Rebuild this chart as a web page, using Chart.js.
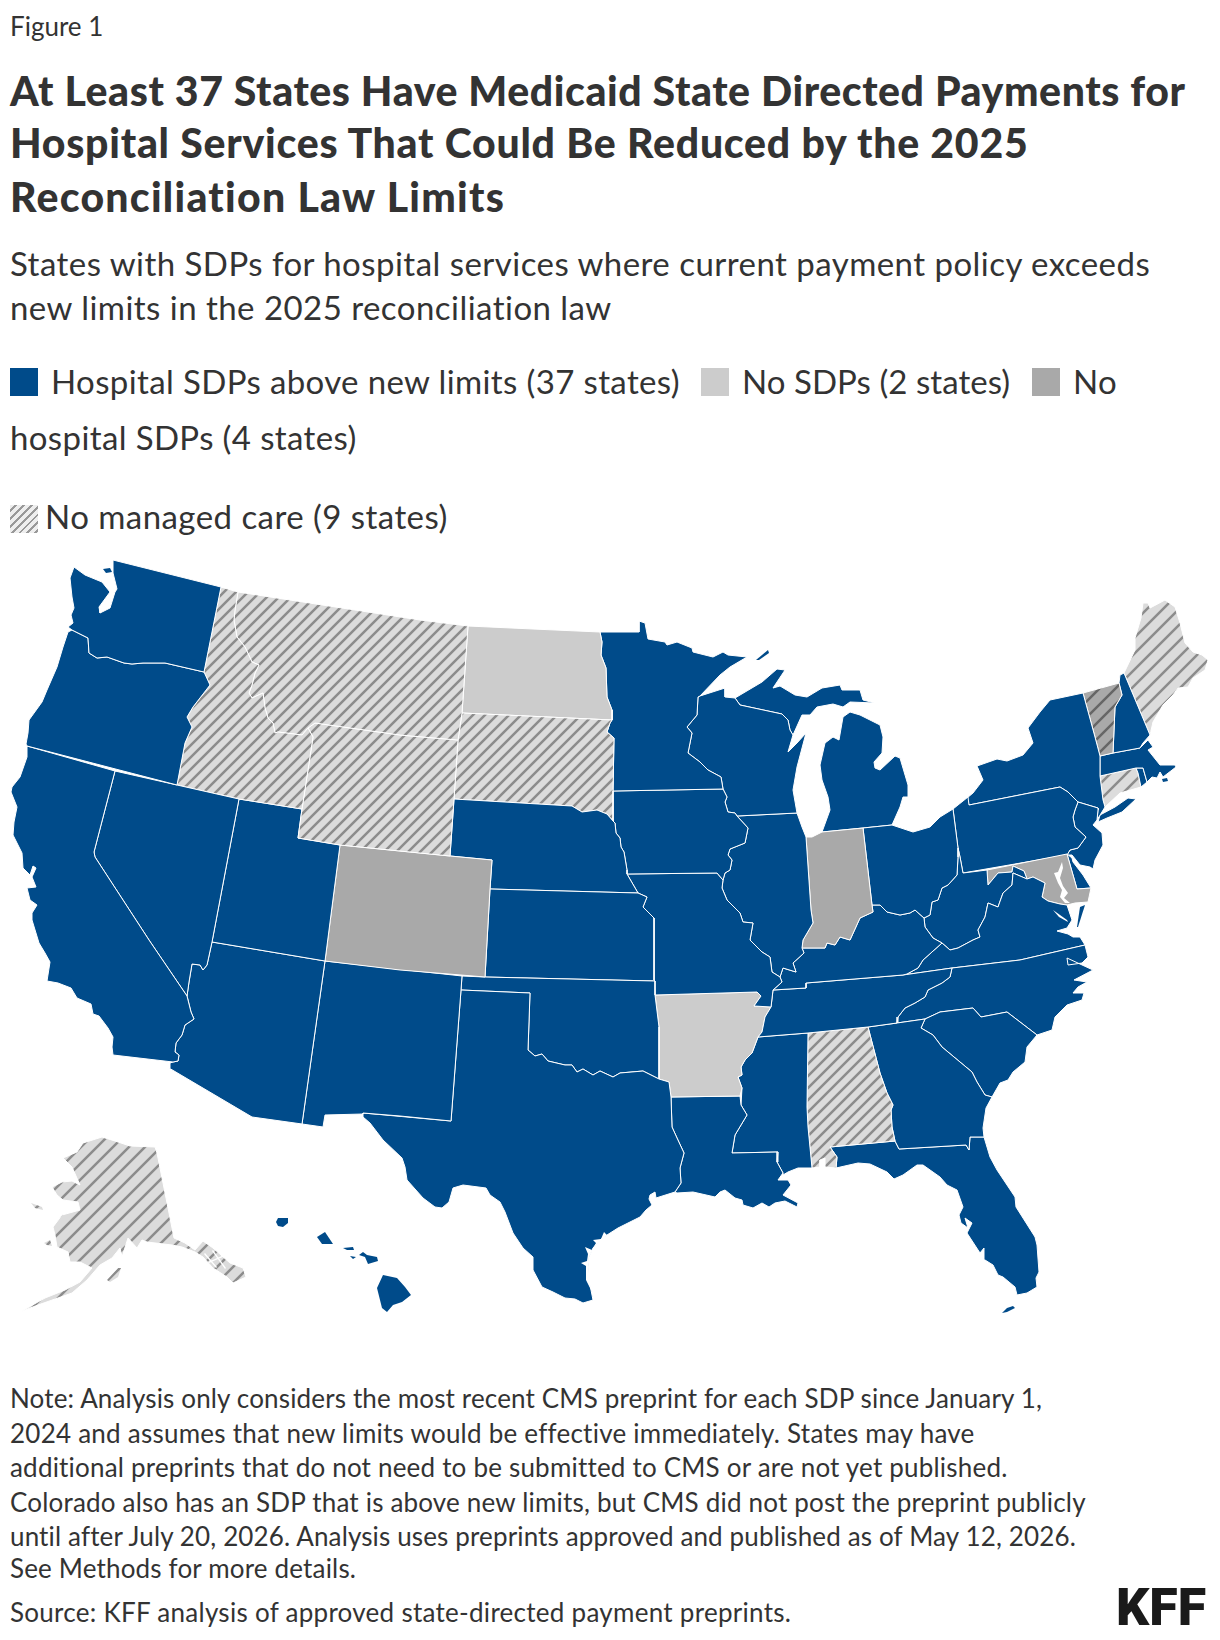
<!DOCTYPE html>
<html>
<head>
<meta charset="utf-8">
<title>Figure 1</title>
<style>
  html, body { margin: 0; padding: 0; background: #fff; }
  body { width: 1220px; height: 1640px; position: relative; overflow: hidden; font-family: Lato, sans-serif; color: #333; }
  .t { position: absolute; left: 10px; white-space: nowrap; line-height: 1; }
  .fig { font-size: 26px; }
  .title { font-size: 41px; font-weight: 900; }
  .sub { font-size: 33px; letter-spacing: 0.46px; }
  .leg { font-size: 33px; letter-spacing: 0.37px; }
  .note { font-size: 26px; }
  .sw { position: absolute; width: 28px; height: 28px; }
  #logo { position: absolute; left: 1116px; top: 1582px; font: 900 52px/1 Roboto, sans-serif; color: #1a1a1a; white-space: nowrap; }
  #mapBox { position: absolute; left: 0; top: 540px; width: 1220px; height: 820px; }
</style>
</head>
<body>
<div class="t fig" style="top:13px">Figure 1</div>
<div class="t title" style="top:70px;letter-spacing:0.58px">At Least 37 States Have Medicaid State Directed Payments for</div>
<div class="t title" style="top:122px;letter-spacing:0.74px">Hospital Services That Could Be Reduced by the 2025</div>
<div class="t title" style="top:176px;letter-spacing:1.25px">Reconciliation Law Limits</div>
<div class="t sub" style="top:247px">States with SDPs for hospital services where current payment policy exceeds</div>
<div class="t sub" style="top:291px">new limits in the 2025 reconciliation law</div>

<div class="sw" style="left:10px;top:368px;background:#004b8a"></div>
<div class="t leg" style="left:51px;top:365px">Hospital SDPs above new limits (37 states)</div>
<div class="sw" style="left:701px;top:368px;background:#cccccc"></div>
<div class="t leg" style="left:742px;top:365px;letter-spacing:0.05px">No SDPs (2 states)</div>
<div class="sw" style="left:1032px;top:368px;background:#a9a9a9"></div>
<div class="t leg" style="left:1073px;top:365px">No</div>
<div class="t leg" style="top:421px">hospital SDPs (4 states)</div>
<div class="sw" style="left:10px;top:505px;background:repeating-linear-gradient(135deg,#eeeeee 0 3.5px,#999999 3.5px 5.5px)"></div>
<div class="t leg" style="left:45px;top:500px;letter-spacing:0.45px">No managed care (9 states)</div>

<div id="mapBox"><canvas id="usMap" width="1220" height="820"></canvas></div>

<div class="t note" style="top:1385px;letter-spacing:0.155px">Note: Analysis only considers the most recent CMS preprint for each SDP since January 1,</div>
<div class="t note" style="top:1420px;letter-spacing:0.24px">2024 and assumes that new limits would be effective immediately. States may have</div>
<div class="t note" style="top:1454px;letter-spacing:0.2px">additional preprints that do not need to be submitted to CMS or are not yet published.</div>
<div class="t note" style="top:1489px;letter-spacing:0.19px">Colorado also has an SDP that is above new limits, but CMS did not post the preprint publicly</div>
<div class="t note" style="top:1523px;letter-spacing:0.14px">until after July 20, 2026. Analysis uses preprints approved and published as of May 12, 2026.</div>
<div class="t note" style="top:1555px;letter-spacing:0.17px">See Methods for more details.</div>
<div class="t note" style="top:1599px;letter-spacing:0.28px">Source: KFF analysis of approved state-directed payment preprints.</div>
<div id="logo">KFF</div>

<script src="https://cdn.jsdelivr.net/npm/chart.js@4"></script>
<script>
// state groups
const aboveLimits = ['WA','OR','CA','NV','UT','AZ','NM','TX','OK','KS','NE','MN','IA','MO','WI','IL','MI','OH','KY','TN','MS','LA','GA','FL','SC','NC','VA','WV','PA','NY','NJ','DE','NH','MA','RI','HI'];
const noSdps = ['ND','AR'];
const noHospitalSdps = ['CO','IN','MD'];
const noManagedCare = ['ID','MT','WY','SD','AL','ME','CT','AK'];
const noHospitalAndNoManagedCare = ['VT'];

// shared borders, in map units
const rev = a => a.slice().reverse();
const waOr = [[204,672],[165,663],[143,663],[132,664],[124,663],[107,657],[97,658],[89,653],[88,638],[78,633],[72,630]];
const orId = [[177,785],[185,743],[192,727],[187,717],[193,707],[210,685],[204,672]];
const caNv = [[115,771],[94,852],[95,857],[149,940],[187,996]];
const caAz = [[187,996],[191,1012],[194,1019],[185,1025],[182,1035],[176,1043],[175,1052],[179,1055],[178,1061],[173,1062]];
const nvAz = [[212,942],[207,965],[203,970],[200,965],[192,964],[189,982],[187,996]];
const idMt = [[238,592],[235,610],[234,620],[237,637],[245,647],[252,662],[259,665],[255,673],[252,685],[249,693],[252,698],[263,693],[265,708],[268,718],[273,723],[275,733],[278,732],[302,735],[308,728]];
const okTx = [[528,1050],[535,1056],[542,1054],[548,1061],[565,1065],[572,1065],[577,1072],[583,1069],[593,1075],[600,1071],[613,1077],[620,1073],[643,1071],[659,1079]];
const txLa = [[671,1097],[672,1127],[677,1138],[684,1153],[680,1168],[681,1183],[675,1192]];
const ndMn = [[600,632],[602,642],[601,655],[606,668],[607,697],[612,710],[612,720]];
const sdMn = [[612,720],[610,723],[607,732],[614,738],[613,791]];
const neSd = [[454,799],[572,806],[582,812],[597,810],[607,814],[613,821]];
const neIa = [[613,821],[615,823],[616,833],[620,838],[621,847],[624,852],[627,870],[627,874]];
const mnWi = [[698,697],[697,715],[687,727],[692,733],[688,753],[700,762],[708,770],[721,777],[723,789]];
const ilUpper = [[723,880],[725,873],[730,870],[732,860],[728,855],[730,849],[745,843],[748,828],[737,816]];
const moIl = [[723,880],[722,888],[727,900],[740,913],[743,922],[753,923],[750,940],[762,952],[770,957],[772,972],[780,977]];
const kyIl = [[780,977],[783,968],[796,972],[793,963],[804,953],[802,948]];
const ilIn = [[806,837],[811,910],[813,923],[803,940],[802,948]];
const kyIn = [[802,948],[825,948],[827,943],[835,945],[840,937],[850,940],[860,918],[873,912],[872,905]];
const kyOh = [[872,905],[880,905],[887,912],[900,915],[910,913],[915,910],[924,918]];
const ohWv = [[958,848],[958,857],[957,875],[948,885],[942,888],[938,900],[932,902],[930,915],[924,918]];
const kyWv = [[924,918],[925,927],[933,938],[942,943]];
const kyVa = [[903,975],[907,974],[918,968],[923,960],[942,943]];
const tnNorth = [[773,990],[806,988],[806,983],[903,975]];
const tnNc = [[952,968],[950,977],[942,983],[928,990],[925,997],[915,1003],[905,1008],[898,1017],[897,1023]];
const vaNc = [[952,968],[1020,960],[1085,945]];
const wvVa = [[1027,879],[1013,873],[1012,885],[1003,893],[998,907],[988,903],[985,917],[978,930],[980,937],[973,940],[958,948],[950,950],[942,943]];
const wvMd = [[987,870],[988,885],[998,873],[1012,872],[1013,866],[1024,871],[1027,879]];
const potomac = [[1027,879],[1033,877],[1045,883],[1042,897],[1048,901],[1060,904],[1067,905]];
const arUpper = [[771,1007],[765,1017],[762,1032],[758,1037]];
const arLower = [[758,1037],[752,1053],[745,1060],[741,1067],[742,1075],[738,1077],[742,1088],[740,1096]];
const moAr = [[655,995],[757,992],[761,996],[754,1006],[771,1007]];
const laMs = [[740,1096],[741,1105],[747,1115],[735,1135],[732,1153],[778,1152],[777,1162],[783,1173]];
const alEast = [[868,1027],[880,1073],[887,1093],[893,1105],[891,1110],[892,1127],[895,1141]];
const gaSc = [[925,1019],[921,1028],[933,1035],[942,1047],[960,1062],[972,1072],[977,1082],[985,1095],[992,1097]];
const scTop = [[925,1019],[940,1012],[973,1008],[981,1017],[1007,1012],[1037,1035]];
const paNy = [[969,805],[1060,787],[1068,792],[1078,802]];
const paNj = [[1078,802],[1075,810],[1073,817],[1075,827],[1086,837],[1078,848],[1070,850],[1067,855]];
const nyNj = [[1078,802],[1098,808],[1098,810],[1097,820]];
const nyNe = [[1105,807],[1103,800],[1100,776],[1100,756],[1095,737],[1083,693]];

// one ring per state part
const WA = [[113,560],[221,587],...waOr,[68,627],[73,623],[71,615],[74,608],[72,597],[70,578],[74,567],[85,575],[102,582],[110,592],[99,607],[100,613],[110,608],[115,592],[117,589],[113,573]];
const WA_island = [[103,569],[110,568],[112,572],[106,573]];
const OR = [...waOr,[68,632],[63,647],[57,667],[47,690],[42,702],[29,720],[28,733],[26,744],[27,746],...orId];
const CA = [[27,746],...caNv,...caAz,[113,1055],[112,1047],[113,1037],[108,1028],[99,1016],[93,1014],[91,1004],[77,998],[71,988],[58,983],[47,981],[50,962],[45,953],[39,943],[32,920],[32,913],[37,905],[30,900],[27,888],[36,887],[32,877],[36,868],[33,866],[30,875],[23,868],[22,853],[13,835],[14,822],[17,807],[11,792],[12,787],[20,777],[27,757]];
const NV = [[115,771],[177,785],[239,799],[212,942],...nvAz.slice(1),...rev(caNv).slice(1)];
const ID = [[221,587],...idMt,[313,737],[302,809],[239,799],[177,785],...orId.slice(1)];
const MT = [...idMt,[315,723],[400,735],[458,740],[462,713],[468,626],[420,620]];
const WY = [[315,723],[400,735],[458,740],[454,799],[450,856],[340,845],[298,838],[302,809],[313,737],[308,728]];
const UT = [[239,799],[302,809],[298,838],[340,845],[325,961],[212,942]];
const CO = [[340,845],[450,856],[492,860],[490,889],[485,977],[400,970],[325,961]];
const AZ = [[212,942],[325,961],[302,1124],[252,1117],[169,1068],[170,1063],...rev(caAz),...rev(nvAz).slice(1)];
const NM = [[325,961],[462,976],[461,990],[451,1121],[400,1116],[363,1113],[363,1114],[325,1115],[323,1127],[302,1124]];
const TX = [[461,990],[530,993],...okTx,[669,1082],...txLa,[656,1198],[655,1192],[650,1195],[649,1199],[652,1205],[646,1210],[640,1217],[618,1228],[607,1235],[600,1240],[593,1248],[589,1257],[588,1267],[589,1280],[593,1300],[583,1303],[575,1299],[565,1298],[553,1292],[542,1287],[533,1270],[533,1257],[523,1248],[513,1233],[505,1212],[500,1202],[490,1195],[486,1188],[463,1185],[453,1188],[449,1202],[442,1208],[435,1207],[423,1198],[407,1180],[405,1167],[402,1158],[383,1140],[370,1123],[363,1117],[363,1113],[451,1121]];
const OK = [[462,976],[485,977],[655,981],[655,995],[659,1027],[659,1079],...rev(okTx),[530,993],[461,990]];
const KS = [[490,889],[638,893],[647,897],[643,907],[654,918],[654,980],[655,981],[485,977]];
const NE = [...neSd,...neIa,[638,893],[490,889],[492,860],[450,856]];
const SD = [[462,713],[612,720],...sdMn.slice(1),[613,812],...rev(neSd),[458,740]];
const ND = [[468,626],[533,629],...ndMn,[462,713]];
const MN = [...ndMn,...sdMn.slice(1),...rev(mnWi),[700,696],[720,675],[730,667],[747,657],[728,655],[723,652],[713,657],[693,652],[692,648],[677,642],[667,645],[665,642],[648,639],[645,623],[639,621],[639,632]];
const IA = [[613,791],[723,789],[727,797],[725,802],[728,812],[735,813],...rev(ilUpper),[717,873],[627,874],...rev(neIa),[613,791]];
const MO = [[627,874],[717,873],...moIl,[782,982],[773,990],...rev(moAr),[654,980],[654,918],[643,907],[647,897],[638,893]];
const WI = [[698,697],[700,696],[725,688],[725,697],[735,698],[740,705],[782,714],[788,720],[790,730],[793,735],[788,752],[797,743],[806,733],[797,767],[793,790],[797,813],[737,816],[735,813],[728,812],[725,802],[727,797],...rev(mnWi).slice(0,8)];
const IL = [[737,816],[797,813],[802,827],...ilIn,...rev(kyIl),...rev(moIl),...ilUpper.slice(1)];
const IN = [[806,837],[812,837],[822,832],[863,828],...rev(kyIn),...rev(ilIn).slice(1)];
const OH = [[863,828],[892,825],[913,832],[930,827],[940,817],[953,809],...ohWv,...rev(kyOh)];
const KY = [...kyIl,...kyIn.slice(1),...kyOh.slice(1),...kyWv.slice(1),...rev(kyVa).slice(1),...rev(tnNorth).slice(1),[782,982]];
const TN = [...tnNorth,[952,968],...tnNc.slice(1),[868,1027],[808,1033],...rev(arUpper)];
const AR = [...moAr,...arUpper.slice(1),...arLower.slice(1),[671,1097],[669,1082],[659,1079],[659,1027]];
const LA = [[671,1097],...laMs,[778,1180],[788,1180],[791,1185],[783,1195],[798,1203],[797,1207],[785,1201],[775,1203],[769,1207],[762,1203],[753,1208],[743,1205],[742,1200],[735,1198],[725,1190],[720,1192],[715,1197],[693,1192],[677,1193],...rev(txLa).slice(0,6)];
const MS = [[758,1037],[808,1033],[807,1107],[808,1127],[812,1168],[798,1168],[788,1172],[783,1175],...rev(laMs).slice(0,-1),...rev(arLower).slice(1)];
const AL = [[808,1033],...alEast,[830,1147],[837,1157],[836,1168],[825,1167],[825,1158],[820,1160],[820,1167],[812,1168],[808,1127],[807,1107]];
const GA = [[868,1027],[897,1023],...gaSc,[986,1108],[983,1128],[984,1137],[970,1137],[969,1150],[966,1145],[899,1149],...rev(alEast)];
const FL = [[830,1147],[895,1141],[899,1149],[966,1145],[969,1150],[970,1137],[984,1137],[990,1157],[997,1170],[1015,1197],[1016,1207],[1035,1237],[1037,1245],[1039,1272],[1036,1278],[1037,1287],[1027,1293],[1017,1295],[1015,1287],[1003,1277],[998,1275],[993,1265],[985,1260],[984,1248],[980,1253],[967,1233],[972,1223],[965,1218],[968,1228],[961,1223],[959,1215],[963,1207],[957,1190],[947,1185],[940,1177],[923,1165],[917,1165],[903,1175],[894,1179],[887,1172],[870,1164],[858,1163],[836,1168],[837,1157]];
const FL_keys = [[1002,1313],[1007,1308],[1013,1306],[1015,1308],[1007,1312]];
const SC = [...scTop,[1027,1047],[1025,1062],[1013,1072],[1008,1080],[1000,1083],...rev(gaSc)];
const NC = [...vaNc,[1088,957],[1082,963],[1068,965],[1067,958],[1093,970],[1074,980],[1087,982],[1078,987],[1073,993],[1084,993],[1082,1000],[1067,1005],[1055,1017],[1052,1030],...rev(scTop),[897,1023],...rev(tnNc).slice(1)];
const VA = [...potomac,[1072,920],[1067,928],[1057,931],[1068,934],[1073,937],[1080,937],...rev(vaNc),...kyVa,...rev(wvVa).slice(1)];
const VA_shore = [[1085,905],[1078,927],[1077,927],[1080,907]];
const WV = [[963,873],...wvMd,...wvVa.slice(1),...rev(kyWv).slice(1),...rev(ohWv).slice(1),[960,857]];
const MD = [[987,870],[1067,854],[1077,889],[1091,888],[1088,902],[1075,903],...rev(potomac),...rev(wvMd).slice(1)];
const DE = [[1067,854],[1072,858],[1073,862],[1083,875],[1091,888],[1077,889]];
const PA = [[968,797],...paNy,...paNj,[963,873],[960,857],[958,848],[953,809]];
const NJ = [...paNj,[1072,855],[1080,865],[1090,867],[1093,869],[1095,860],[1103,845],[1102,833],[1093,825],...rev(nyNj).slice(0,3)];
const NY = [[967,798],...paNy,...nyNj,[1105,807],...nyNe.slice(1),[1050,700],[1040,712],[1028,728],[1033,743],[1023,755],[1007,761],[997,759],[977,766],[983,780],[973,793]];
const NY_longIsland = [[1098,822],[1100,815],[1115,807],[1128,798],[1136,799],[1122,812],[1107,818]];
const VT = [[1083,693],[1119,683],[1122,695],[1115,707],[1113,753],[1100,756],[1095,737]];
const NH = [[1119,683],[1120,675],[1124,673],[1150,735],[1143,743],[1140,748],[1113,753],[1115,707],[1122,695]];
const ME = [[1124,673],[1135,650],[1135,638],[1141,618],[1143,603],[1148,603],[1150,608],[1165,600],[1175,607],[1180,623],[1185,643],[1193,652],[1202,655],[1208,660],[1205,670],[1193,678],[1188,687],[1178,688],[1173,695],[1163,705],[1153,722],[1150,735]];
const MA = [[1100,756],[1113,753],[1140,748],[1148,740],[1153,747],[1148,750],[1160,765],[1175,765],[1176,767],[1163,777],[1160,772],[1157,778],[1152,777],[1147,782],[1143,768],[1136,768],[1100,776]];
const MA_islands = [[1162,779],[1167,778],[1168,781],[1163,782]];
const RI = [[1136,768],[1143,768],[1147,782],[1141,787],[1138,773]];
const CT = [[1100,776],[1136,768],[1138,773],[1141,787],[1120,793],[1105,807],[1103,800]];
const MI_lower = [[822,832],[863,828],[892,825],[900,807],[903,797],[908,797],[908,785],[900,758],[895,756],[880,770],[875,768],[874,762],[882,753],[883,737],[880,725],[860,715],[850,712],[843,717],[839,740],[833,737],[825,743],[820,765],[822,780],[828,797],[830,810]];
const MI_upper = [[735,698],[740,705],[782,714],[788,720],[790,730],[793,735],[802,715],[810,715],[817,707],[833,704],[843,707],[850,702],[875,703],[863,700],[860,690],[842,690],[840,685],[822,688],[807,697],[795,695],[780,686],[773,688],[785,670],[777,669],[762,682]];
const MI_isle = [[756,660],[768,650],[769,653],[759,660]];
const AK = [[102,1137],[115,1141],[130,1146],[155,1147],[157,1153],[174,1238],[185,1243],[195,1250],[203,1241],[213,1248],[230,1263],[243,1268],[246,1277],[233,1283],[227,1277],[213,1268],[203,1257],[195,1252],[182,1247],[172,1245],[147,1242],[142,1240],[137,1248],[128,1238],[122,1257],[120,1248],[112,1258],[100,1265],[87,1280],[72,1293],[58,1298],[38,1305],[20,1312],[45,1298],[65,1290],[80,1282],[92,1268],[80,1262],[70,1262],[68,1252],[57,1247],[55,1235],[53,1227],[62,1215],[80,1210],[78,1202],[63,1200],[57,1195],[52,1187],[62,1182],[72,1181],[80,1185],[72,1167],[63,1158],[77,1152],[83,1143]];
const AK_kodiak = [[107,1280],[118,1268],[121,1268],[118,1277],[110,1282]];
const AK_stLawrence = [[31,1203],[42,1207],[43,1210],[35,1208]];
const AK_nunivak = [[44,1243],[50,1240],[52,1246],[47,1245]];
const HI_kauai = [[276,1222],[278,1218],[288,1218],[288,1223],[283,1227],[278,1226]];
const HI_oahu = [[317,1237],[325,1232],[333,1244],[322,1244]];
const HI_molokai = [[343,1248],[353,1247],[354,1250],[347,1250]];
const HI_lanai = [[350,1256],[356,1257],[353,1259]];
const HI_maui = [[359,1255],[363,1252],[367,1255],[377,1257],[378,1261],[368,1264],[365,1257]];
const HI_big = [[383,1275],[397,1278],[405,1287],[411,1295],[402,1302],[393,1305],[387,1312],[382,1308],[377,1288]];

// bays and sounds, painted over the land
const chesapeake = [[1062,862],[1063,868],[1060,878],[1063,886],[1068,893],[1064,898],[1070,903],[1065,903],[1060,897],[1062,890],[1058,883],[1054,873],[1058,872]];
const texasBays = [[604,1232],[607,1235],[600,1241],[593,1248],[589,1257],[588,1267],[590,1280],[591,1290],[586,1280],[586,1266],[581,1263],[587,1261],[588,1254],[585,1247],[592,1250],[596,1243],[593,1240],[601,1239]];
const vaRiver = [[1053,910],[1067,920],[1068,922],[1059,917]];
const laBay = [[723,1194],[727,1193],[730,1196],[725,1197]];
const akChannelA = [[205,1253],[217,1267],[216,1268],[204,1254]];
const akChannelB = [[213,1250],[226,1268],[225,1269],[212,1251]];
const akChannelC = [[208,1262],[224,1255],[225,1256],[209,1263]];

const stateParts = {
  WA: [WA, WA_island], OR: [OR], CA: [CA], NV: [NV], ID: [ID], MT: [MT], WY: [WY], UT: [UT], CO: [CO], AZ: [AZ], NM: [NM],
  TX: [TX], OK: [OK], KS: [KS], NE: [NE], SD: [SD], ND: [ND], MN: [MN], IA: [IA], MO: [MO], WI: [WI], IL: [IL], IN: [IN],
  OH: [OH], KY: [KY], TN: [TN], AR: [AR], LA: [LA], MS: [MS], AL: [AL], GA: [GA], FL: [FL, FL_keys], SC: [SC], NC: [NC],
  VA: [VA, VA_shore], WV: [WV], MD: [MD], DE: [DE], PA: [PA], NJ: [NJ], NY: [NY, NY_longIsland], VT: [VT], NH: [NH], ME: [ME],
  MA: [MA, MA_islands], RI: [RI], CT: [CT], MI: [MI_lower, MI_upper, MI_isle],
  AK: [AK, AK_kodiak, AK_stLawrence, AK_nunivak], HI: [HI_kauai, HI_oahu, HI_molokai, HI_lanai, HI_maui, HI_big]
};
const waterParts = [chesapeake, texasBays, vaRiver, laBay, akChannelA, akChannelB, akChannelC];
const wideHatch = ['AK', 'ME', 'CT', 'VT'];
// too small to carry the white outline
const smallParts = [WA_island, FL_keys, VA_shore, MA_islands, MI_isle, AK_kodiak, AK_stLawrence, AK_nunivak, HI_kauai, HI_oahu, HI_molokai, HI_lanai, HI_maui, HI_big];

// 45 degree stripes, like the svg pattern in the original
function hatch(bg, stripe, size) {
  const c = document.createElement('canvas');
  c.width = c.height = size;
  const g = c.getContext('2d');
  g.fillStyle = bg;
  g.fillRect(0, 0, size, size);
  g.strokeStyle = stripe;
  g.lineWidth = 2.5;
  g.beginPath();
  g.moveTo(-2, size + 2); g.lineTo(size + 2, -2);
  g.moveTo(-2, 2); g.lineTo(2, -2);
  g.moveTo(size - 2, size + 2); g.lineTo(size + 2, size - 2);
  g.stroke();
  return g.createPattern(c, 'repeat');
}

function stateFill(st) {
  const size = wideHatch.includes(st) ? 16 : 12;
  if (aboveLimits.includes(st)) return '#004b8a';
  if (noSdps.includes(st)) return '#cccccc';
  if (noHospitalSdps.includes(st)) return '#a9a9a9';
  if (noHospitalAndNoManagedCare.includes(st)) return hatch('#a9a9a9', '#666666', size);
  if (noManagedCare.includes(st)) return hatch('#dcdcdc', '#8c8c8c', size);
  return '#ffffff';
}

function ring(pts) {
  return pts.concat([pts[0]]).map(p => ({ x: p[0], y: p[1] }));
}

const datasets = [];
waterParts.forEach(part => {
  datasets.push({ label: 'water', data: ring(part), showLine: true, fill: 'shape', backgroundColor: '#fff', borderWidth: 0, pointRadius: 0, order: 0 });
});
Object.keys(stateParts).forEach(st => {
  stateParts[st].forEach(part => {
    datasets.push({
      label: st,
      data: ring(part),
      showLine: true,
      fill: 'shape',
      backgroundColor: stateFill(st),
      borderColor: '#ffffff',
      borderWidth: smallParts.includes(part) ? 0 : 1,
      borderJoinStyle: 'round',
      pointRadius: 0,
      order: 1
    });
  });
});

new Chart(document.getElementById('usMap'), {
  type: 'scatter',
  data: { datasets: datasets },
  options: {
    responsive: false,
    animation: false,
    devicePixelRatio: 1,
    events: [],
    layout: { padding: 0 },
    scales: {
      x: { type: 'linear', min: 0, max: 1220, display: false },
      y: { type: 'linear', min: 540, max: 1360, reverse: true, display: false }
    },
    plugins: { legend: { display: false }, tooltip: { enabled: false } }
  }
});
</script>
</body>
</html>
